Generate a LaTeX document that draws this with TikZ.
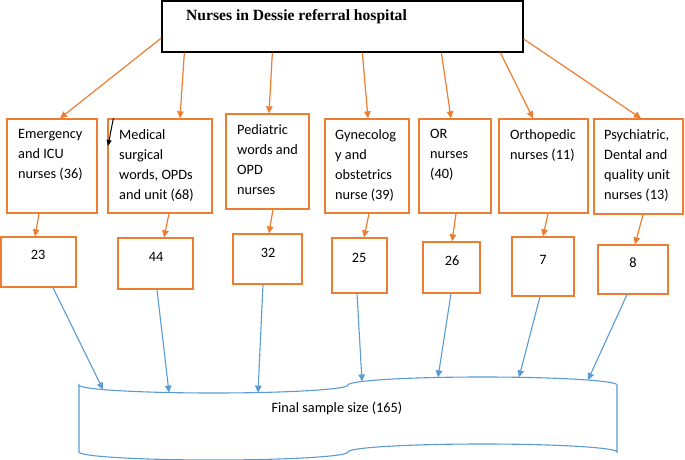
\documentclass[tikz,border=0pt]{standalone}
\usepackage{fontspec}
\setmainfont{Carlito}
\newfontfamily\titlefont{Liberation Serif}
\usetikzlibrary{arrows.meta}
\definecolor{boxorange}{HTML}{ED7D31}
\definecolor{flowblue}{HTML}{5B9BD5}

\begin{document}
\begin{tikzpicture}[x=1pt, y=-1pt,
  font=\fontsize{14.3}{20}\selectfont,
  catbox/.style={draw=boxorange, line width=1.3pt, inner sep=0pt},
  cattext/.style={anchor=north west, align=left, inner sep=0pt},
  numtext/.style={inner sep=0pt},
  orangearrow/.style={draw=boxorange, line width=1.2pt, -{Triangle[length=7pt,width=6.5pt]}},
  bluearrow/.style={draw=flowblue, line width=1.1pt, -{Triangle[length=7pt,width=6.5pt]}},
  ]
  \useasboundingbox (0,0) rectangle (685,460);

  %%% hospital box on top %%%
  \node[draw=black, line width=1.3pt, minimum width=361pt, minimum height=51pt, inner sep=0pt] (top) at (342.5,26.5) {};
  \node[anchor=base west, inner sep=0pt, font=\titlefont\bfseries\fontsize{15.6}{18}\selectfont] (toptext) at (186,21) {Nurses in Dessie referral hospital};

  %%% nurse categories %%%
  \node[catbox, minimum width=90pt,  minimum height=94pt] (emg) at (52,166) {};
  \node[catbox, minimum width=104pt, minimum height=94pt] (med) at (160,166) {};
  \node[catbox, minimum width=83pt,  minimum height=95pt] (ped) at (267.5,161.5) {};
  \node[catbox, minimum width=84pt,  minimum height=94pt] (gyn) at (367,166) {};
  \node[catbox, minimum width=72pt,  minimum height=94pt] (orn) at (455,166) {};
  \node[catbox, minimum width=89pt,  minimum height=94pt] (ort) at (543.5,166) {};
  \node[catbox, minimum width=89pt,  minimum height=95pt] (psy) at (638.5,166.5) {};

  \node[cattext] (emgtext) at (18,129.5)  {Emergency\\and ICU\\nurses (36)};
  \node[cattext] (medtext) at (119,129.5) {Medical\\surgical\\words, OPDs\\and unit (68)};
  \node[cattext] (pedtext) at (237,124.5) {Pediatric\\words and\\OPD\\nurses};
  \node[cattext] (gyntext) at (335,129.5) {Gynecolog\\y and\\obstetrics\\nurse (39)};
  \node[cattext] (orntext) at (430,129.5) {OR\\nurses\\(40)};
  \node[cattext] (orttext) at (510,129.5) {Orthopedic\\nurses (11)};
  \node[cattext] (psytext) at (604,129.5) {Psychiatric,\\Dental and\\quality unit\\nurses (13)};

  %%% sample per category %%%
  \foreach \nm/\cx/\cy/\w/\h/\tx/\ty in {23/38.5/262/75/50/38/255, 44/155.5/263.5/75/51/156/257,
      32/267.5/259/69/50/268/253, 25/359.5/265.5/55/55/359/258, 26/451.5/267.5/57/51/452/261,
      7/543/266.5/62/59/543/260, 8/633/269.5/70/49/633/263} {
    \node[catbox, minimum width=\w*1pt, minimum height=\h*1pt] (n\nm) at (\cx,\cy) {};
    \node[numtext] (t\nm) at (\tx,\ty) {\nm};
  }

  %%% final sample (punched tape) %%%
  \draw[flowblue, line width=1.1pt]
    (79,385) arc[start angle=180, end angle=360, x radius=134.5pt, y radius=8pt]
             arc[start angle=180, end angle=0, x radius=134.5pt, y radius=8pt]
    -- (617,452)
             arc[start angle=0, end angle=180, x radius=134.5pt, y radius=8pt]
             arc[start angle=0, end angle=-180, x radius=134.5pt, y radius=8pt]
    -- cycle;
  \node[numtext] (final) at (337,408) {Final sample size (165)};

  %%% hospital -> categories %%%
  \draw[orangearrow] ([yshift=-11.5pt]top.west) -- ([xshift=8pt]emg.north);
  \draw[orangearrow] ([xshift=23pt]top.south west)  -- ([xshift=20pt]med.north);
  \draw[orangearrow] ([xshift=111pt]top.south west) -- ([xshift=1.5pt]ped.north);
  \draw[orangearrow] ([xshift=201pt]top.south west) -- ([xshift=1pt]gyn.north);
  \draw[orangearrow] ([xshift=280pt]top.south west) -- ([xshift=-4pt]orn.north);
  \draw[orangearrow] ([xshift=339pt]top.south west) -- ([xshift=-10.5pt]ort.north);
  \draw[orangearrow] ([yshift=-12.5pt]top.east) -- ([xshift=2.5pt]psy.north);

  %%% stray black arrow %%%
  \coordinate (strayend) at (108,146);
  \draw[black, line width=1pt, -{Triangle[length=6pt,width=5pt]}] ([xshift=6pt]med.north west) -- (strayend);

  %%% categories -> samples %%%
  \draw[orangearrow] ([xshift=-13pt]emg.south) -- ([xshift=-3.5pt]n23.north);
  \draw[orangearrow] ([xshift=9pt]med.south)   -- ([xshift=8.5pt]n44.north);
  \draw[orangearrow] ([xshift=5.5pt]ped.south) -- ([xshift=1.5pt]n32.north);
  \draw[orangearrow] ([xshift=2pt]gyn.south)   -- ([xshift=4.5pt]n25.north);
  \draw[orangearrow] ([xshift=1pt]orn.south)   -- ([xshift=0.5pt]n26.north);
  \draw[orangearrow] ([xshift=4.5pt]ort.south) -- (n7.north);
  \draw[orangearrow] ([xshift=4.5pt]psy.south) -- ([xshift=2pt]n8.north);

  %%% samples -> final sample %%%
  \foreach \nm/\dx/\fx/\fy in {23/14.5/103/389.6, 44/1.5/169/392.6, 32/-4.5/258/392.6,
      25/-2.5/362/381.4, 26/-0.5/438/377.4, 7/-3/519/377.3, 8/-6/588/380} {
    \coordinate (f\nm) at (\fx,\fy);
    \draw[bluearrow] ([xshift=\dx*1pt]n\nm.south) -- (f\nm);
  }
\end{tikzpicture}
\end{document}
